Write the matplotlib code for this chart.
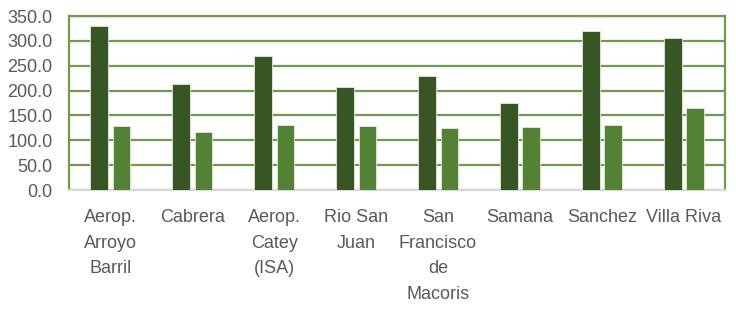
import matplotlib.pyplot as plt
import numpy as np

# station names and the two series
stations = ["Aerop.\nArroyo\nBarril", "Cabrera", "Aerop.\nCatey\n(ISA)", "Rio San\nJuan",
            "San\nFrancisco\nde\nMacoris", "Samana", "Sanchez", "Villa Riva"]
serie_a = [331, 213, 270, 207, 229, 176, 319, 305]
serie_b = [128, 117, 131, 128, 124, 126, 131, 165]
yticks = np.arange(0, 351, 50)

plt.rcParams['font.family'] = ['Liberation Sans', 'DejaVu Sans']

fig = plt.figure(figsize=(7.36, 3.09), dpi=100)
ax = fig.add_axes([0.094, 0.385, 0.891, 0.563])

x = np.arange(len(stations))
w = 0.215
ax.bar(x - 0.1375, serie_a, w, color="#375623", edgecolor="#e3ead9", linewidth=0.6, zorder=3)
ax.bar(x + 0.1375, serie_b, w, color="#548235", edgecolor="#e3ead9", linewidth=0.6, zorder=3)

ax.set_xlim(-0.5, len(stations) - 0.5)
ax.set_ylim(0, 350)
ax.set_yticks(yticks)
ax.set_yticklabels([f"{v:.1f}" for v in yticks])
ax.set_xticks(x)
ax.set_xticklabels(stations, linespacing=1.65)
ax.tick_params(axis="both", length=0, labelsize=13, colors="#595959")
ax.tick_params(axis="x", pad=14)
ax.tick_params(axis="y", pad=12)

ax.yaxis.grid(True, color="#6f9a4f", linewidth=1.6, zorder=0)
for side in ["top", "left", "right"]:
    ax.spines[side].set_color("#6f9a4f")
    ax.spines[side].set_linewidth(1.6)
ax.spines["bottom"].set_color("#d9d9d9")
ax.spines["bottom"].set_linewidth(1.6)

fig.savefig("out.png", dpi=100)
